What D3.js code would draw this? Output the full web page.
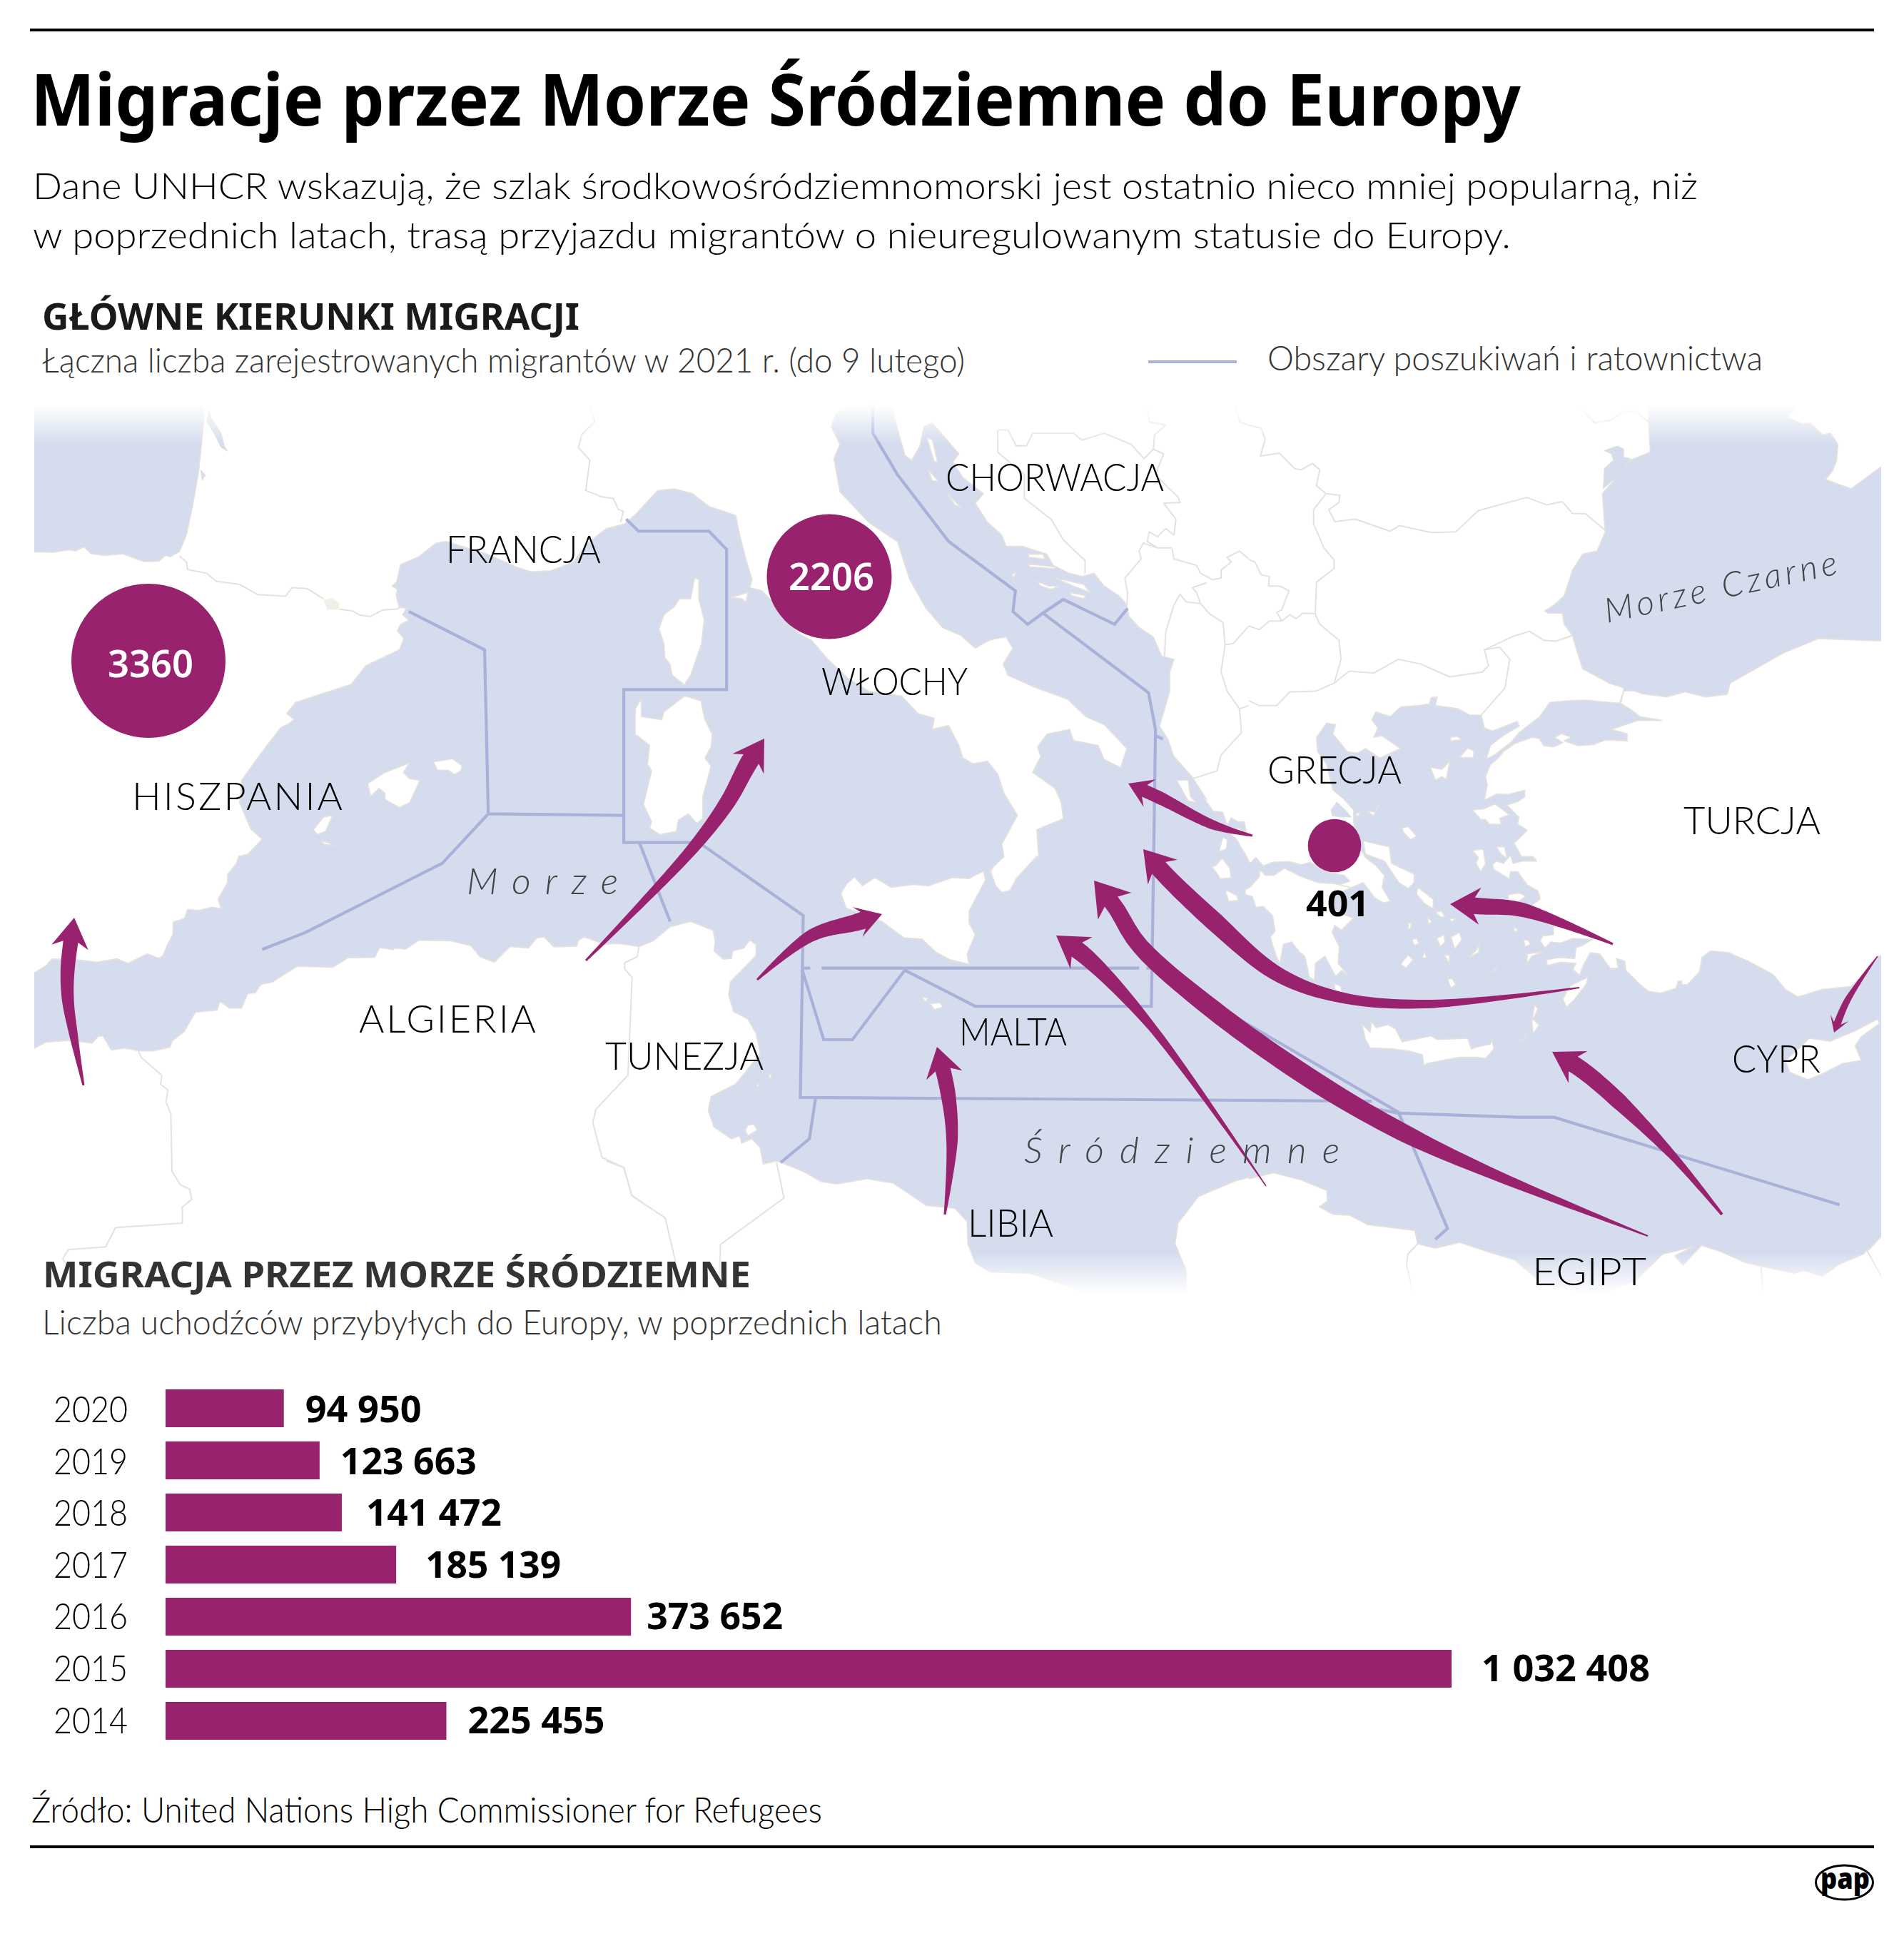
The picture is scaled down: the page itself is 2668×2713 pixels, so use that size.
<!DOCTYPE html>
<html>
<head>
<meta charset="utf-8">
<style>
  html, body { margin: 0; padding: 0; background: #fff; }
  text { font-family: "Noto Sans", sans-serif; }
</style>
<script src="https://cdn.jsdelivr.net/npm/d3@7"></script>
</head>
<body>
<script>
"use strict";

const w = 2668;
const h = 2713;

//bar chart data
const years = ["2020", "2019", "2018", "2017", "2016", "2015", "2014"];
const arrivals = [94950, 123663, 141472, 185139, 373652, 1032408, 225455];
const arrivalLabels = ["94 950", "123 663", "141 472", "185 139", "373 652", "1 032 408", "225 455"];
const labelGaps = [30, 29, 34, 41, 22, 42, 30];
const labelWidths = [163, 191, 190, 190, 191, 236, 192];

//bubbles on the map
const bubbleValues = [3360, 2206, 401];
const bubblePlaces = [[208, 926], [1162, 808], [1870, 1185]];

const crop = (x0, y0, cw, ch, size = 1568) => {
  const sx = d3.scaleLinear().domain([0, size]).range([x0, x0 + cw]);
  const sy = d3.scaleLinear().domain([0, size]).range([y0, y0 + ch]);
  return (pts) => pts.map(([x, y]) => [sx(x), sy(y)]);
};
const A = crop(0, 540, 900, 700);
const B = crop(850, 540, 900, 700);
const C = crop(1750, 540, 900, 700);
const D = crop(0, 1200, 900, 650);
const E = crop(850, 1200, 900, 650);
const F = crop(1750, 1200, 900, 650);
const G = crop(1680, 1020, 500, 500, 1500);
const H = crop(2000, 1020, 500, 500, 1500);

const landWest = [
  ...A([[500,0],[497,120],[485,270],[470,380],[455,470],[438,522],[415,538],[405,533],[388,552],[352,553],[300,529],[255,534],[222,528],[205,507],[185,520],[168,516],[130,524],[86,523],[40,523]]),
  ...D([[40,392],[86,392],[112,370],[127,347],[190,350],[237,358],[285,346],[312,362],[360,330],[388,345],[398,335],[410,295],[422,265],[423,222],[450,210],[458,180],[485,183],[517,172],[540,177],[532,145],[555,90],[556,60],[577,25],[583,0]]),
  ...A([[605,1472],[640,1425],[612,1392],[585,1310],[590,1240],[640,1150],[685,1075],[708,1060],[718,1048],[700,1030],[722,995],[858,938],[893,880],[975,830],[986,795],[970,770],[978,750],[998,738],[983,720],[992,700],[975,697],[967,660],[970,640],[957,630],[968,618],[978,562],[1020,540],[1065,495],[1090,490],[1190,530],[1260,570],[1297,585],[1345,582],[1400,555],[1430,500],[1480,450],[1525,435],[1560,395]]),
  ...B([[78,395],[125,330],[165,325],[210,340],[250,380],[315,408],[325,470],[340,545],[355,610],[350,635],[380,645],[405,680],[430,730],[470,780],[500,800],[540,860],[590,920],[640,960],[720,975],[760,1030],[800,1045],[795,1080],[835,1068],[860,1130],[870,1170],[895,1188],[930,1180],[955,1220],[970,1280],[1003,1350],[965,1440],[970,1480],[945,1510],[935,1530]]),
  ...E([[935,40],[950,100],[965,122],[985,115],[1000,75],[1050,0]]),
  ...B([[1055,1480],[1050,1395],[1115,1360],[1110,1310],[1095,1265],[1040,1215],[1060,1165],[1052,1135],[1075,1095],[1130,1080],[1140,1115],[1200,1130],[1215,1175],[1255,1200],[1270,1140],[1215,1065],[1170,1040],[1125,985],[1040,945],[980,910],[968,875],[992,825],[975,790],[950,795],[935,800],[900,825],[865,785],[820,760],[780,700],[740,610],[710,490],[640,430],[570,335],[555,230],[570,185],[548,130],[560,90],[600,60],[640,0],[700,0],[700,85],[710,135],[728,220],[745,235],[765,190],[775,130],[795,118],[820,155],[860,215],[845,240],[855,260],[870,290],[920,340],[900,370],[930,430],[965,470],[975,505],[1015,505],[1075,530],[1090,565],[1130,590],[1160,600],[1190,590],[1215,630],[1250,660],[1268,685],[1275,725],[1300,760],[1335,790],[1355,850],[1385,860],[1375,900],[1375,960],[1350,1070],[1370,1110],[1385,1165],[1430,1230],[1465,1300]]),
  ...G([[20,295],[35,315],[60,350],[100,355],[120,410],[135,378],[165,395],[190,395],[200,440],[165,420],[125,440],[160,470],[175,500],[195,530],[215,570],[240,545],[270,580],[310,565],[380,562],[430,575],[470,565],[505,590],[560,610],[610,620],[635,645],[590,660],[640,672],[690,650],[740,715],[775,735],[805,730],[770,670],[780,620],[745,580],[700,545],[660,480],[650,385],[650,345],[610,300]]),
  ...C([[205,1270],[190,1190],[168,1150],[165,1105],[190,1060],[212,1065],[205,1095],[225,1125],[240,1150],[265,1155],[285,1140],[320,1170],[370,1140],[325,1100],[305,1105],[315,1075],[300,1050],[310,1025],[345,1040],[370,1010],[415,1005],[440,1000],[445,980],[460,978],[455,1005],[510,1015],[540,1035],[567,1035],[575,1075],[595,1085],[655,1055],[660,1070],[620,1100],[590,1130],[580,1172],[600,1160],[640,1120],[660,1090],[710,1040],[735,995],[780,990],[820,988],[905,998],[915,960],[915,950],[880,935],[815,890],[800,830],[790,785],[770,750],[765,715],[730,715],[722,708],[745,690],[770,660],[790,580],[815,530],[850,520],[870,460],[863,340],[900,285],[930,235],[980,210],[975,100],[975,0]]),
];

const landNorthEast = C([[1340,0],[1340,60],[1315,100],[1350,120],[1370,118],[1400,155],[1420,150],[1438,185],[1435,235],[1425,268],[1408,295],[1470,325],[1544,255],[1600,200],[1600,0]]);

const landTurkey = [
  ...C([[915,960],[940,958],[960,968],[1020,978],[1065,962],[1115,978],[1168,970],[1175,935],[1305,840],[1390,795],[1600,805]]),
  ...F([[1600,300],[1535,340],[1490,415],[1470,440],[1400,450],[1340,475],[1310,450],[1280,400],[1220,355],[1170,325]]),
  ...H([[1190,938],[1155,965],[1145,1025],[1095,1078],[1070,1080],[1070,1065],[1055,1065],[1045,1095],[980,1115],[930,1108],[890,1075],[835,1020],[830,980],[795,970],[803,1010],[770,1012],[750,985],[725,950],[685,945],[655,1000],[640,1040],[612,1015],[625,990],[560,985],[505,1000],[500,975],[555,965],[620,970],[625,925],[650,915],[695,890],[610,885],[560,905],[520,900],[495,925],[475,895],[485,875],[530,870],[530,835],[490,815],[440,745],[475,720],[465,685],[420,660],[380,605],[350,605],[345,635],[280,595],[275,575],[290,560],[320,570],[350,535],[360,570],[400,560],[460,560],[445,542],[395,540],[365,485],[420,430],[380,405],[385,375],[335,325],[380,310],[410,290],[410,262],[340,280],[290,278],[240,305],[252,240],[245,205],[265,155],[300,125],[320,100],[370,65],[440,40],[470,45],[490,75],[530,80],[570,62],[535,40],[565,25],[605,40],[575,55],[635,75],[700,70],[750,50],[840,55],[840,25]]),
  ...C([[885,1080],[950,1052],[1008,1052],[955,1040],[935,1020],[908,998]]),
];

const landAfrica = [
  ...D([[40,650],[86,648],[112,628],[170,622],[225,632],[240,608],[252,608],[272,655],[305,648],[340,658],[375,658],[415,645],[420,625],[450,592],[477,527],[530,520],[537,490],[560,513],[590,513],[605,463],[623,462],[637,433],[665,425],[725,372],[812,375],[850,343],[915,342],[927,308],[960,316],[962,310],[990,314],[1022,284],[1100,286],[1150,302],[1172,340],[1207,358],[1245,305],[1290,310],[1310,276],[1328,272],[1352,306],[1408,304],[1412,285],[1425,272],[1475,297],[1510,295],[1560,305]]),
  ...E([[80,305],[115,285],[155,238],[205,220],[260,250],[265,290],[262,320],[285,348],[305,345],[308,320],[335,310],[350,282],[365,300],[365,335],[330,385],[302,425],[298,470],[310,525],[345,550],[365,600],[375,665],[350,710],[315,770],[255,812],[248,860],[262,915],[305,955],[325,945],[330,970],[355,955],[375,985],[382,1040],[415,1030],[425,1035],[480,1065],[525,1100],[562,1108],[635,1090],[700,1105],[780,1180],[850,1190],[880,1235],[882,1310],[900,1375],[935,1405],[1035,1410],[1170,1475],[1300,1560],[1415,1560],[1415,1400],[1388,1310],[1395,1240],[1445,1150],[1530,1100],[1568,1085]]),
  ...F([[0,1090],[60,1070],[130,1095],[190,1130],[192,1165],[172,1185],[205,1210],[245,1213],[290,1245],[405,1265],[412,1310],[455,1325],[515,1305],[590,1340],[650,1365],[720,1450],[850,1480],[940,1440],[1010,1345],[1085,1320],[1040,1350],[1060,1382],[1105,1315],[1150,1335],[1215,1375],[1250,1385],[1330,1410],[1355,1400],[1400,1420],[1440,1380],[1500,1345],[1540,1290],[1600,1260],[1600,1700]]),
  ...D([[40,1700]]),
];

const peloponnese = G([[255,595],[255,625],[215,670],[195,680],[195,700],[225,710],[240,755],[270,750],[310,790],[320,855],[300,880],[325,960],[340,990],[355,910],[390,900],[425,945],[445,960],[465,1050],[485,1060],[490,990],[530,960],[575,1045],[600,1020],[630,1045],[585,990],[590,920],[560,860],[570,830],[600,850],[650,800],[620,790],[560,760],[570,700],[620,680],[640,672],[570,655],[500,650],[430,625],[360,590],[315,620],[280,620]]);

const islands = [
  A([[898,1250],[940,1215],[1000,1185],[985,1215],[1000,1235],[1025,1240],[1000,1310],[975,1325],[940,1300],[940,1280],[925,1265],[905,1290]]),
  A([[1058,1182],[1105,1172],[1128,1195],[1125,1210],[1110,1222],[1095,1208],[1068,1208]]),
  A([[765,1395],[790,1355],[812,1350],[795,1400],[775,1410]]),
  A([[785,1430],[800,1435],[815,1445],[790,1440]]),
  B([[70,1015],[85,985],[85,1040],[135,1050],[140,1025],[190,975],[230,990],[240,1050],[258,1095],[255,1135],[240,1170],[255,1195],[235,1290],[235,1360],[220,1375],[200,1345],[175,1365],[170,1400],[130,1410],[105,1390],[110,1370],[90,1315],[110,1210],[100,1190],[105,1130],[70,1095],[70,1050]]),
  B([[215,605],[225,610],[225,670],[238,735],[232,810],[205,910],[190,940],[160,910],[155,875],[142,855],[140,810],[128,765],[140,720],[165,695],[178,670],[205,670]]),
  B([[305,665],[345,650],[340,680],[330,670]]),
  B([[1392,1240],[1420,1238],[1425,1290],[1440,1310],[1420,1305]]),
  B([[1030,530],[1065,530],[1070,545],[1030,540]]),
  B([[1025,560],[1095,570],[1095,575],[1035,570]]),
  B([[1095,605],[1165,625],[1180,650],[1130,625]]),
  B([[1050,615],[1080,630],[1105,630],[1085,640],[1060,630]]),
  B([[1130,650],[1170,660],[1165,670],[1135,660]]),
  B([[990,590],[1000,590],[992,605]]),
  B([[782,165],[795,170],[808,240],[800,240]]),
  B([[785,265],[810,300],[795,300]]),
  B([[830,335],[865,385],[850,375]]),
  E([[572,125],[585,95],[605,70],[625,100],[655,72],[695,105],[750,95],[785,100],[845,72],[885,75],[920,50],[925,80],[885,185],[885,225],[900,265],[880,330],[885,365],[840,350],[805,325],[770,280],[725,275],[672,220],[585,175]]),
  E([[770,475],[785,480],[778,492]]),
  E([[790,498],[815,495],[820,510],[800,518]]),
  E([[345,910],[358,905],[368,925],[345,945],[338,925]]),
  E([[395,740],[402,738],[400,755]]),
  E([[365,770],[375,768],[368,778]]),
  F([[1368,615],[1420,625],[1480,590],[1535,550],[1540,565],[1495,610],[1480,640],[1495,690],[1450,700],[1400,735],[1365,755],[1320,730],[1310,690],[1350,640]]),
  G([[685,1245],[720,1280],[725,1235],[745,1260],[795,1248],[825,1265],[855,1320],[975,1295],[1000,1310],[1130,1305],[1145,1350],[1175,1340],[1225,1330],[1232,1310],[1240,1350],[1205,1390],[1170,1385],[1090,1385],[1040,1395],[960,1410],[945,1420],[940,1375],[890,1360],[820,1350],[720,1345],[700,1310]]),
  G([[570,1075],[595,1085],[605,1125],[575,1125]]),
  G([[100,460],[120,470],[115,510],[85,520]]),
  G([[55,585],[75,575],[90,555],[100,550],[130,590],[135,630],[90,635],[75,610]]),
  G([[110,680],[160,705],[165,725],[125,730]]),
  G([[855,420],[880,415],[915,455],[890,470],[860,440]]),
  G([[690,475],[800,500],[810,570],[905,615],[905,650],[880,675],[840,650],[800,590],[780,560],[700,530]]),
  G([[920,670],[985,720],[985,760],[950,740],[915,700]]),
  G([[995,775],[1020,770],[1035,795],[1015,795]]),
  G([[960,795],[980,815],[965,825]]),
  G([[1050,805],[1080,798],[1065,815]]),
  G([[880,820],[893,820],[890,845],[880,845]]),
  G([[895,890],[915,885],[925,905],[905,915]]),
  G([[945,940],[958,965],[940,968]]),
  G([[855,985],[880,955],[900,975],[870,1010],[850,995]]),
  G([[1030,955],[1052,955],[1055,990]]),
  G([[700,345],[735,370],[755,325],[740,355],[715,350]]),
  G([[660,360],[680,355],[665,375]]),
  H([[190,345],[240,340],[285,320],[345,365],[305,380],[310,405],[260,405],[245,385],[225,385]]),
  H([[190,515],[235,510],[245,570],[225,605],[205,570],[215,545]]),
  H([[290,500],[325,500],[335,550],[310,530]]),
  H([[12,165],[60,175],[95,140],[80,215],[60,205],[35,220]]),
  H([[135,125],[170,85],[195,95],[195,125]]),
  H([[95,40],[125,35],[145,50],[100,55]]),
  H([[100,880],[135,860],[145,890],[115,930]]),
  H([[40,885],[70,870],[75,900],[55,920]]),
  H([[175,965],[205,935],[220,910],[215,945]]),
  H([[70,955],[92,955],[95,990]]),
  H([[365,840],[380,845],[375,855],[365,855]]),
  H([[405,890],[425,895],[435,910],[410,920]]),
  H([[275,1025],[295,1005],[280,1027]]),
  H([[85,1055],[105,1055],[120,1080],[100,1095]]),
  H([[340,700],[390,695],[415,708],[375,735],[340,725]]),
  H([[420,950],[490,940],[440,960],[420,990]]),
  H([[450,1165],[465,1180],[445,1225],[470,1250],[445,1285],[440,1240]]),
  H([[395,1315],[420,1290],[400,1315]]),
  H([[600,1085],[675,1048],[670,1075],[620,1140],[585,1175],[570,1140]]),
];

//bits of sea cut back into land
const seaPatches = [
  A([[490,265],[502,283],[493,298]]),
  A([[510,70],[515,100],[540,150],[548,190],[556,207],[540,195],[520,145],[505,115]]),
  C([[867,205],[900,190],[915,200],[915,225],[932,230],[900,285],[865,325],[868,260],[890,235],[885,215]]),
  G([[555,345],[580,312],[620,350],[640,375],[600,375],[560,370]]),
];

const borders = [
  A([[438,535],[455,555],[458,578],[505,590],[528,615],[585,625],[630,657],[697,662],[713,635],[750,638],[790,670]]),
  A([[828,703],[860,708],[880,722],[905,725],[935,705],[970,702],[975,697]]),
  A([[1440,60],[1452,115],[1420,155],[1412,195],[1440,235],[1430,330],[1470,350],[1497,355],[1510,390],[1522,395],[1515,430]]),
  B([[955,140],[980,140],[1000,190],[1025,190],[1040,150],[1140,150],[1160,172],[1215,150],[1280,185],[1312,230],[1335,200],[1360,215],[1340,280],[1370,320],[1395,350],[1400,368],[1360,370],[1390,420],[1385,470],[1365,450],[1345,475],[1325,460],[1320,490],[1345,510]]),
  B([[955,140],[955,210],[1020,280],[1020,355],[1085,420],[1115,485],[1168,550],[1168,590]]),
  B([[1320,60],[1325,115],[1365,125],[1338,155],[1335,200]]),
  B([[1345,510],[1310,495],[1300,520],[1305,545],[1265,605],[1272,650],[1270,700]]),
  B([[1345,510],[1380,510],[1385,545],[1440,565],[1450,590],[1480,610],[1500,605],[1500,580],[1525,555],[1515,540],[1545,520],[1568,545]]),
  B([[1400,655],[1385,690],[1365,775],[1362,850]]),
  B([[1400,655],[1415,680],[1450,685],[1440,650],[1430,635],[1465,620]]),
  B([[1450,685],[1470,715],[1505,745],[1510,815],[1530,810],[1568,755]]),
  B([[1510,815],[1500,900],[1515,960],[1545,1015],[1568,1005]]),
  B([[1545,1015],[1550,1090],[1500,1160],[1490,1210],[1430,1235]]),
  B([[1535,60],[1545,115],[1568,125]]),
  C([[0,125],[30,135],[40,170],[28,222],[75,213],[112,262],[128,265],[155,245],[173,265],[165,315],[188,340],[222,345],[220,368],[195,390],[210,428],[260,420],[345,458],[368,440],[445,462],[505,460],[560,393],[678,352],[727,375],[765,365],[790,402],[822,403],[870,455]]),
  C([[188,340],[158,390],[158,435],[183,510],[208,548],[208,575],[165,618],[162,717],[172,748],[220,800],[225,860],[208,935],[245,897],[305,903],[365,860],[420,875],[490,915],[570,900],[585,880],[575,830],[612,822],[637,860],[625,950],[567,1035]]),
  C([[575,830],[645,788],[685,772],[720,800],[750,803],[790,785]]),
  C([[208,935],[163,960],[100,962],[68,1005],[25,1005],[0,990]]),
  C([[162,717],[132,715],[115,732],[100,720],[80,740],[50,740],[25,767],[0,755]]),
  C([[0,547],[15,555],[30,595],[50,600],[48,630],[75,630],[98,645],[80,705],[68,712],[80,740]]),
  C([[800,60],[845,118],[885,108],[915,82],[945,82],[975,115]]),
  D([[338,658],[345,680],[395,740],[392,770],[410,790],[405,830],[417,870],[420,1065],[440,1110],[463,1125],[468,1160],[445,1185],[445,1240],[282,1255],[258,1320],[167,1330],[153,1360],[190,1450]]),
  D([[1560,305],[1555,340],[1525,360],[1525,380],[1543,410],[1533,740],[1455,855],[1447,900],[1470,1018],[1523,1052],[1542,1145],[1568,1170]]),
  E([[0,1030],[42,1052],[62,1148],[143,1222],[190,1500]]),
  E([[415,1035],[433,1155],[278,1312],[275,1460]]),
  F([[412,1310],[388,1345],[385,1380],[400,1470]]),
  F([[1540,1290],[1510,1335],[1544,1420]]),
  F([[1250,1385],[1255,1470]]),
];
const andorra = A([[790,675],[810,668],[828,682],[828,702],[800,705]]);

//search and rescue areas
const sarLines = [
  A([[998,710],[1183,830],[1192,1345],[1525,1350]]),
  [...A([[1192,1345],[1080,1500]]), ...D([[745,258],[640,315]])],
  [...B([[48,420],[78,458],[250,458],[293,515],[293,955],[42,955],[42,1435],[225,1435]]), ...E([[480,200],[478,385],[473,815]]), ...F([[0,825],[300,828]])],
  [...F([[365,868],[660,882],[745,882],[1442,1178]])],
  [...E([[1330,380],[1400,430]]), ...F([[0,570],[365,865],[485,1258],[455,1295]])],
  [...F([[210,828],[365,868]])],
  E([[478,378],[497,378]]),
  E([[525,378],[1300,378]]),
  E([[1318,378],[1330,378]]),
  [...E([[478,385],[530,620],[600,620],[728,385],[900,507],[1330,507],[1335,60]]), ...B([[1340,1080],[1323,965],[1065,715],[1115,672],[1240,750],[1272,700]])],
  B([[1340,1100],[1358,1110]]),
  B([[1065,715],[1028,750],[992,710],[998,645],[835,490],[710,280],[650,150],[650,40]]),
  [...B([[80,1435],[120,1568]]), ...E([[155,220]])],
  E([[510,820],[495,955],[425,1035]]),
];

//migration routes: spine points are x, y, width of the shaft there
const routes = [
  { spine: [[117,1521,3],[103,1450,12],[95,1399,17],[95,1355,20],[104,1286,22]], head: [42, 52] },
  { spine: [[821,1346,3],[968,1192,16],[1020,1123,22],[1048,1071,25],[1071,1035,26]], head: [42, 52] },
  { spine: [[1061,1373,3],[1137,1311,17],[1202,1292,24],[1236,1281,26]], head: [36, 44] },
  { spine: [[1324,1702,3],[1334,1598,16],[1328,1530,21],[1313,1467,22]], head: [41, 52] },
  { spine: [[1774,1662,1.5],[1613,1438,12],[1522,1341,24],[1480,1311,26]], head: [43, 54] },
  { spine: [[2309,1732,2],[2094,1646,15],[1968,1588,25],[1848,1519,28],[1700,1415,27],[1596,1324,24],[1562,1270,23],[1533,1234,23]], head: [46, 60] },
  { spine: [[2213,1384,2],[2000,1407,12],[1880,1398,15],[1790,1365,21],[1700,1290,27],[1629,1222,25],[1602,1190,25]], head: [42, 54] },
  { spine: [[1755,1171,3],[1700,1156,13],[1625,1118,18],[1581,1098,18]], head: [33, 42] },
  { spine: [[2260,1323,3],[2133,1275,20],[2077,1270,23],[2032,1267,23]], head: [42, 52] },
  { spine: [[2413,1702,4],[2347,1623,11],[2267,1542,23],[2215,1498,24],[2175,1474,24]], head: [42, 52] },
  { spine: [[2631,1340,1.5],[2588,1403,9],[2570,1447,11]], head: [22, 27] },
];

const seaColor = "#d4dcee";
const landStroke = "#e7e1dd";
const sarColor = "#a9b1d9";
const purple = "#99226f";
const lightFont = "Lato, 'Noto Sans', sans-serif";

const svg = d3.select("body").append("svg").attr("width", w).attr("height", h).style("display", "block");

//text helper: every label gets the width it has in the picture
function label(parent, t, x, y, end, size, o = {}) {
  return parent.append("text")
    .attr("x", x).attr("y", y)
    .attr("font-size", size)
    .attr("font-weight", o.weight || 300)
    .attr("font-style", o.italic ? "italic" : "normal")
    .style("font-family", o.weight ? null : lightFont)
    .attr("fill", o.fill || "#000")
    .attr("textLength", end - x)
    .attr("lengthAdjust", o.spread ? "spacing" : "spacingAndGlyphs")
    .attr("transform", o.rotate ? `rotate(${o.rotate} ${x} ${y})` : null)
    .text(t);
}

//head
svg.append("rect").attr("x", 42).attr("y", 40).attr("width", 2584).attr("height", 4).attr("fill", "#000");
label(svg, "Migracje przez Morze Śródziemne do Europy", 43, 176, 2131, 100, { weight: 700 });
label(svg, "Dane UNHCR wskazują, że szlak środkowośródziemnomorski jest ostatnio nieco mniej popularną, niż", 46, 279, 2379, 52);
label(svg, "w poprzednich latach, trasą przyjazdu migrantów o nieuregulowanym statusie do Europy.", 46, 348, 2117, 52);
label(svg, "GŁÓWNE KIERUNKI MIGRACJI", 59, 462, 812, 52, { weight: 700, fill: "#1a1a1a" });
label(svg, "Łączna liczba zarejestrowanych migrantów w 2021 r. (do 9 lutego)", 59, 522, 1352, 48, { fill: "#333" });
svg.append("line").attr("x1", 1609).attr("x2", 1733).attr("y1", 507).attr("y2", 507).attr("stroke", sarColor).attr("stroke-width", 4);
label(svg, "Obszary poszukiwań i ratownictwa", 1776, 519, 2470, 48, { fill: "#333" });

//map
const mapX = 48, mapR = 2636, mapTop = 567, mapBottom = 1815;
const defs = svg.append("defs");
defs.append("clipPath").attr("id", "mapClip").append("rect")
  .attr("x", mapX).attr("y", mapTop).attr("width", mapR - mapX).attr("height", mapBottom - mapTop);
const fade = (id, from, to) => {
  const g = defs.append("linearGradient").attr("id", id)
    .attr("gradientUnits", "userSpaceOnUse").attr("x1", 0).attr("x2", 0).attr("y1", from).attr("y2", to);
  g.append("stop").attr("offset", 0).attr("stop-color", "#fff").attr("stop-opacity", 1);
  g.append("stop").attr("offset", 1).attr("stop-color", "#fff").attr("stop-opacity", 0);
};
fade("fadeTop", 567, 623);
fade("fadeBottom", 1814, 1755);

const map = svg.append("g").attr("clip-path", "url(#mapClip)");
const outline = d3.line();
const closed = (pts) => outline(pts) + "Z";

map.append("rect").attr("x", mapX).attr("y", mapTop).attr("width", mapR - mapX).attr("height", mapBottom - mapTop).attr("fill", seaColor);
map.selectAll("path.land")
  .data([landWest, landNorthEast, landTurkey, landAfrica, peloponnese, ...islands])
  .enter().append("path").attr("class", "land")
  .attr("d", closed).attr("fill", "#fff").attr("stroke", landStroke).attr("stroke-width", 1.6).attr("stroke-linejoin", "round");
map.selectAll("path.patch").data(seaPatches).enter().append("path").attr("class", "patch")
  .attr("d", closed).attr("fill", seaColor).attr("stroke", landStroke).attr("stroke-width", 1);
map.selectAll("path.border").data(borders).enter().append("path").attr("class", "border")
  .attr("d", outline).attr("fill", "none").attr("stroke", landStroke).attr("stroke-width", 2).attr("stroke-linejoin", "round");
map.append("path").attr("d", closed(andorra)).attr("fill", "#f3eee8");
map.selectAll("path.sar").data(sarLines).enter().append("path").attr("class", "sar")
  .attr("d", outline).attr("fill", "none").attr("stroke", sarColor).attr("stroke-width", 4.2).attr("stroke-linejoin", "miter");

//soft top and bottom edge of the map
map.append("rect").attr("x", mapX - 2).attr("y", 567).attr("width", mapR - mapX + 4).attr("height", 56).attr("fill", "url(#fadeTop)");
map.append("rect").attr("x", mapX - 2).attr("y", 1755).attr("width", mapR - mapX + 4).attr("height", 60).attr("fill", "url(#fadeBottom)");

//arrows, built along a smooth spine with a growing width
const spineLine = d3.line().curve(d3.curveCatmullRom.alpha(0.5));
function arrowPath(route) {
  const temp = svg.append("path").attr("d", spineLine(route.spine.map((p) => [p[0], p[1]])));
  const node = temp.node();
  const total = node.getTotalLength();
  const [headLen, headW] = route.head;
  const neck = total - headLen;
  let run = 0;
  const knots = route.spine.map((p, i) => {
    if (i > 0) run += Math.hypot(p[0] - route.spine[i - 1][0], p[1] - route.spine[i - 1][1]);
    return run;
  });
  const widthAt = d3.scaleLinear().domain(knots.map((k) => (k / run) * total)).range(route.spine.map((p) => p[2]));
  const at = (s) => {
    const a = node.getPointAtLength(Math.max(0, s - 3));
    const b = node.getPointAtLength(Math.min(total, s + 3));
    const d = Math.hypot(b.x - a.x, b.y - a.y) || 1;
    const c = node.getPointAtLength(s);
    return { x: c.x, y: c.y, tx: (b.x - a.x) / d, ty: (b.y - a.y) / d };
  };
  const left = [], right = [];
  d3.range(0, 61).forEach((i) => {
    const s = ((neck + 8) * i) / 60;
    const p = at(s);
    const half = widthAt(s) / 2;
    left.push([p.x - p.ty * half, p.y + p.tx * half]);
    right.push([p.x + p.ty * half, p.y - p.tx * half]);
  });
  const n = at(neck);
  const tip = route.spine[route.spine.length - 1];
  const ux = (tip[0] - n.x) / headLen, uy = (tip[1] - n.y) / headLen;
  const wingL = [n.x - uy * headW / 2, n.y + ux * headW / 2];
  const wingR = [n.x + uy * headW / 2, n.y - ux * headW / 2];
  temp.remove();
  return closed([...left, wingL, [tip[0], tip[1]], wingR, ...right.reverse()]);
}
svg.selectAll("path.route").data(routes).enter().append("path").attr("class", "route")
  .attr("d", arrowPath).attr("fill", purple);

//bubbles
const radius = d3.scaleSqrt().domain([0, 3360]).range([0, 108]);
svg.selectAll("circle.bubble").data(bubbleValues).enter().append("circle").attr("class", "bubble")
  .attr("cx", (d, i) => bubblePlaces[i][0]).attr("cy", (d, i) => bubblePlaces[i][1])
  .attr("r", (d) => radius(d)).attr("fill", purple);
label(svg, "3360", 151, 949, 271, 52, { weight: 600, fill: "#fff" });
label(svg, "2206", 1105, 827, 1225, 52, { weight: 600, fill: "#fff" });
label(svg, "401", 1830, 1284, 1919, 50, { weight: 700 });

//country and sea names
[
  ["FRANCJA", 625, 789, 842], ["CHORWACJA", 1325, 688, 1631], ["WŁOCHY", 1151, 974, 1356],
  ["GRECJA", 1776, 1098, 1964], ["TURCJA", 2359, 1169, 2551], ["MALTA", 1344, 1465, 1495],
  ["TUNEZJA", 848, 1499, 1070], ["LIBIA", 1356, 1733, 1476], ["EGIPT", 2147, 1801, 2307], ["CYPR", 2427, 1503, 2551],
].forEach(([t, x, y, end]) => label(svg, t, x, y, end, 54));
label(svg, "HISZPANIA", 185, 1135, 480, 54, { spread: true });
label(svg, "ALGIERIA", 503, 1447, 751, 54, { spread: true });
label(svg, "Morze", 654, 1253, 866, 52, { italic: true, spread: true, fill: "#444" });
label(svg, "Śródziemne", 1435, 1630, 1877, 52, { italic: true, spread: true, fill: "#444" });
label(svg, "Morze Czarne", 2252, 873, 2584, 48, { italic: true, spread: true, fill: "#444", rotate: -12 });

//bars
label(svg, "MIGRACJA PRZEZ MORZE ŚRÓDZIEMNE", 60, 1804, 1052, 51, { weight: 700, fill: "#333" });
label(svg, "Liczba uchodźców przybyłych do Europy, w poprzednich latach", 59, 1870, 1320, 48, { fill: "#333" });

const xScale = d3.scaleLinear().domain([0, 1032408]).range([232, 2034]);
const yScale = d3.scaleBand().domain(years).range([1947, 2438]).paddingInner(20 / 73).paddingOuter(0);

svg.selectAll("rect.bar").data(arrivals).enter().append("rect").attr("class", "bar")
  .attr("x", xScale(0)).attr("y", (d, i) => yScale(years[i]))
  .attr("width", (d) => xScale(d) - xScale(0)).attr("height", yScale.bandwidth()).attr("fill", purple);
years.forEach((year, i) => {
  const base = 1993 + 72.6 * i;
  label(svg, year, 75, base, 179, 52);
  const start = xScale(arrivals[i]) + labelGaps[i];
  label(svg, arrivalLabels[i], start, base, start + labelWidths[i], 52, { weight: 700 });
});

//foot
label(svg, "Źródło: United Nations High Commissioner for Refugees", 44, 2554, 1152, 49);
svg.append("rect").attr("x", 42).attr("y", 2586).attr("width", 2584).attr("height", 4).attr("fill", "#000");
svg.append("ellipse").attr("cx", 2584.5).attr("cy", 2638).attr("rx", 40).attr("ry", 24).attr("fill", "#fff").attr("stroke", "#000").attr("stroke-width", 3);
label(svg, "pap", 2551, 2647, 2620, 40, { weight: 900 });
</script>
</body>
</html>
